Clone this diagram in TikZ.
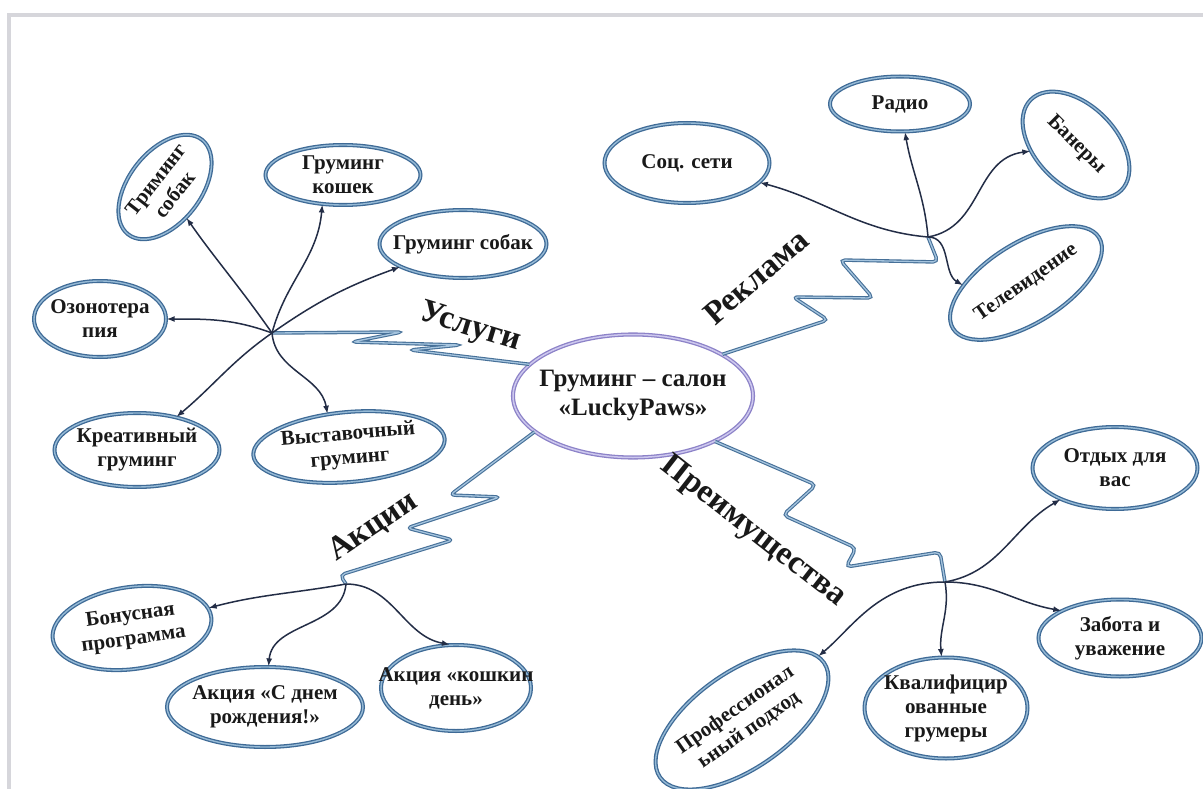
\documentclass[tikz,border=0pt]{standalone}
\usepackage{fontspec}
\setmainfont{Liberation Serif}
\usepackage{tikz}
\usetikzlibrary{shapes.geometric}
\usetikzlibrary{arrows.meta}

\definecolor{ovalblue}{RGB}{62,106,150}
\definecolor{ovallight}{RGB}{150,186,214}
\definecolor{centreline}{RGB}{140,130,200}
\definecolor{centrelight}{RGB}{205,200,238}
\definecolor{zigblue}{RGB}{70,112,152}
\definecolor{ziglight}{RGB}{165,196,222}
\definecolor{arrowink}{RGB}{35,45,70}
\definecolor{ink}{RGB}{25,25,25}
\definecolor{framegray}{RGB}{214,214,219}

\tikzset{
  oval/.style={ellipse, draw=ovalblue, double=ovallight, double distance=1.4pt, line width=1.3pt, fill=white, inner sep=0pt},
  ovaltext/.style={font=\fontsize{21}{24}\selectfont\bfseries, text=ink, align=center, inner sep=0pt},
  centre/.style={ellipse, draw=centreline, double=centrelight, double distance=1.5pt, line width=1.3pt, fill=white, inner sep=0pt, minimum width=240pt, minimum height=123pt},
  centretext/.style={font=\fontsize{25}{29}\selectfont\bfseries, text=ink, align=center, inner sep=0pt},
  branch/.style={font=\fontsize{33}{35}\selectfont\bfseries, text=ink, inner sep=0pt},
  zig/.style={draw=zigblue, double=ziglight, double distance=1.3pt, line width=1.1pt, rounded corners=5pt},
  arr/.style={draw=arrowink, line width=1.5pt, -{Latex[length=8pt,width=6pt]}}
}

\begin{document}
\begin{tikzpicture}[x=1pt,y=1pt]
  \useasboundingbox (0,0) rectangle (1203,-789);
  %FRAME
  \fill[white] (0,0) rectangle (1203,-789);
  \draw[framegray, line width=4pt] (9,-789) -- (9,-15) -- (1203,-15);
  %CENTRE
  \node[centre, label={[centretext]center:{Груминг – салон\\«LuckyPaws»}}] (salon) at (633,-396) {};
  %HUBS
  \coordinate (uslugi) at (272,-333);
  \coordinate (reklama) at (928,-237);
  \coordinate (akcii) at (346,-584);
  \coordinate (preim) at (945,-582);
  %USLUGI
  \node[oval, minimum width=120pt, minimum height=72pt, rotate=52, label={[ovaltext, rotate=52]center:{Триминг\\собак}}] (trim) at (165,-187) {};
  \node[oval, minimum width=155pt, minimum height=60pt, label={[ovaltext]center:{Груминг\\кошек}}] (koshek) at (343,-175) {};
  \node[oval, minimum width=167pt, minimum height=68pt, label={[ovaltext]center:{Груминг собак}}] (sobak) at (463,-244) {};
  \node[oval, minimum width=132pt, minimum height=76pt, label={[ovaltext]center:{Озонотера\\пия}}] (ozon) at (100,-319) {};
  \node[oval, minimum width=165pt, minimum height=74pt, label={[ovaltext]center:{Креативный\\груминг}}] (kreat) at (137,-450) {};
  \node[oval, minimum width=192pt, minimum height=70pt, rotate=5, label={[ovaltext, rotate=5]center:{Выставочный\\груминг}}] (vyst) at (349,-447) {};
  %AKCII
  \node[oval, minimum width=160pt, minimum height=82pt, rotate=8, label={[ovaltext, rotate=8]center:{Бонусная\\программа}}] (bonus) at (132,-628) {};
  \node[oval, minimum width=196pt, minimum height=80pt, label={[ovaltext]center:{Акция «С днем\\рождения!»}}] (drozh) at (265,-707) {};
  \node[oval, minimum width=150pt, minimum height=86pt, label={[ovaltext]center:{Акция «кошкин\\день»}}] (koshkin) at (456,-688) {};
  %REKLAMA
  \node[oval, minimum width=165pt, minimum height=80pt, label={[ovaltext]center:{Соц. сети}}] (socseti) at (687,-163) {};
  \node[oval, minimum width=140pt, minimum height=55pt, label={[ovaltext]center:{Радио}}] (radio) at (900,-104) {};
  \node[oval, minimum width=128pt, minimum height=80pt, rotate=-45, label={[ovaltext, rotate=-45]center:{Банеры}}] (banery) at (1076,-145) {};
  \node[oval, minimum width=172pt, minimum height=80pt, rotate=32, label={[ovaltext, rotate=35]center:{Телевидение}}] (tv) at (1026,-283) {};
  %PREIMUSHCHESTVA
  \node[oval, minimum width=165pt, minimum height=82pt, label={[ovaltext]center:{Отдых для\\вас}}] (otdyh) at (1115,-468) {};
  \node[oval, minimum width=163pt, minimum height=77pt, label={[ovaltext]center:{Забота и\\уважение}}] (zabota) at (1120,-638) {};
  \node[oval, minimum width=163pt, minimum height=101pt, label={[ovaltext]center:{Квалифицир\\ованные\\грумеры}}] (kval) at (946,-708) {};
  \node[oval, minimum width=200pt, minimum height=96pt, rotate=35, label={[ovaltext, rotate=35]center:{Профессионал\\ьный подход}}] (prof) at (742,-720) {};
  %ZIGZAGS
  \draw[zig] (salon.163) -- (410,-350) -- (460,-345) -- (352,-342) -- (402,-332) -- (uslugi);
  \draw[zig] (salon.25) -- (828,-320) -- (793,-297) -- (873,-298) -- (840,-260) -- (938,-262) -- (reklama);
  \draw[zig] (salon.200) -- (450,-495) -- (500,-497) -- (407,-528) -- (453,-540) -- (340,-575) -- (akcii);
  \draw[zig] (salon.-29) -- (816,-485) -- (783,-515) -- (856,-548) -- (846,-567) -- (940,-552) -- (preim);
  %BRANCH LABELS
  \node[branch, rotate=-17] (lbluslugi) at (470,-328) {Услуги};
  \node[branch, rotate=41] (lblreklama) at (756,-277) {Реклама};
  \node[branch, rotate=34] (lblakcii) at (373,-527) {Акции};
  \node[branch, rotate=-38] (lblpreim) at (753,-532) {Преимущества};
  %ARROWS
  \draw[arr] (uslugi) to[out=125,in=-75] (trim);
  \draw[arr] (uslugi) to[out=75,in=-95] (koshek.-125);
  \draw[arr] (uslugi) to[out=35,in=200] (sobak);
  \draw[arr] (uslugi) to[out=160,in=0] (ozon);
  \draw[arr] (uslugi) to[out=215,in=40] (kreat.40);
  \draw[arr] (uslugi) to[out=-85,in=100] (vyst.118);
  \draw[arr] (akcii) to[out=190,in=10] (bonus);
  \draw[arr] (akcii) to[out=-95,in=85] (drozh);
  \draw[arr] (akcii) to[out=0,in=170] (koshkin.98);
  \draw[arr] (reklama) to[out=175,in=-15] (socseti);
  \draw[arr] (reklama) to[out=95,in=-80] (radio);
  \draw[arr] (reklama) to[out=10,in=210] (banery);
  \draw[arr] (reklama) to[out=0,in=150] (tv.150);
  \draw[arr] (preim) to[out=10,in=210] (otdyh);
  \draw[arr] (preim) to[out=0,in=170] (zabota.155);
  \draw[arr] (preim) to[out=-80,in=95] (kval);
  \draw[arr] (preim) to[out=180,in=20] (prof);
\end{tikzpicture}
\end{document}
